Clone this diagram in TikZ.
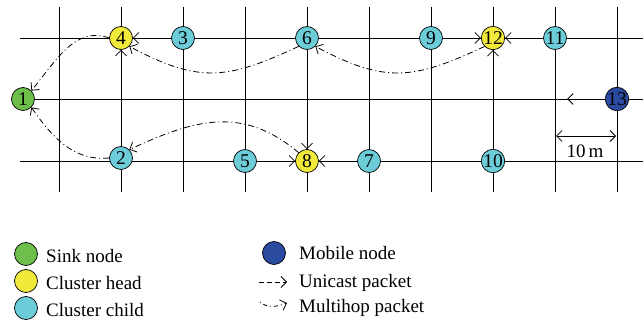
\documentclass[tikz,border=0pt]{standalone}
\usepackage{fontspec}
\setmainfont{Liberation Serif}
\usetikzlibrary{arrows.meta}
\definecolor{sinkgreen}{HTML}{6DBE4B}
\definecolor{headyellow}{HTML}{F2EA3A}
\definecolor{childcyan}{HTML}{6CCDD8}
\definecolor{mobileblue}{HTML}{2A4BA0}
\tikzset{
  grid line/.style={line width=0.9pt, black},
  wsn/.style={circle, draw=black, line width=0.7pt, minimum size=23pt, inner sep=0pt,
    font=\fontsize{19.5}{19.5}\selectfont},
  sink/.style={wsn, fill=sinkgreen},
  head/.style={wsn, fill=headyellow},
  child/.style={wsn, fill=childcyan},
  mobile/.style={wsn, fill=mobileblue},
  tip/.style={-{Straight Barb[length=5.5pt,width=11pt]}},
  unicast/.style={tip, line width=0.8pt, dash pattern=on 5pt off 3pt},
  multihop/.style={tip, line width=0.8pt, dash pattern=on 6pt off 3pt on 1pt off 3pt},
  legtext/.style={anchor=base west, inner sep=0pt, font=\fontsize{19}{19}\selectfont},
  legdot/.style={circle, draw=black, line width=0.7pt, minimum width=20pt, minimum height=23pt, inner sep=0pt},
}
\begin{document}
\begin{tikzpicture}[x=1pt,y=-1pt]
\useasboundingbox (0,0) rectangle (643,321);
% grid
\foreach \k in {0,...,9} {
  \draw[grid line] ({59+62*\k},7) -- ({59+62*\k},192);
}
\foreach \yy in {38,99,161} {
  \draw[grid line] (20,\yy) -- (643,\yy);
}
% nodes
\node[sink]   (n1)  at (23,99)   {1};
\node[child]  (n2)  at (121,158) {2};
\node[child]  (n3)  at (183,38)  {3};
\node[head]   (n4)  at (121,38)  {4};
\node[child]  (n5)  at (245,161) {5};
\node[child]  (n6)  at (307,38)  {6};
\node[child]  (n7)  at (369,161) {7};
\node[head]   (n8)  at (307,161) {8};
\node[child]  (n9)  at (431,38)  {9};
\node[child]  (n10) at (493,161) {10};
\node[child]  (n11) at (555,38)  {11};
\node[head]   (n12) at (493,38)  {12};
\node[mobile] (n13) at (617,99)  {13};
% unicast
\draw[unicast] (n3) -- (n4);
\draw[unicast] (n2) -- (n4);
\draw[unicast] (n6) -- (n8);
\draw[unicast] (n5) -- (n8);
\draw[unicast] (n7) -- (n8);
\draw[unicast] (n9) -- (n12);
\draw[unicast] (n11) -- (n12);
\draw[unicast] (n10) -- (n12);
% multihop
\draw[multihop] (n4.west) to[out=160,in=50] (n1.north east);
\draw[multihop] (n2.west) to[out=185,in=-55] (n1.south east);
\draw[multihop] (n6.south west) to[out=205,in=-28,looseness=1.2] (n4.south east);
\draw[multihop] (n12.south west) to[out=205,in=-28,looseness=1.2] (n6.south east);
\draw[multihop] (n8.north west) to[out=140,in=25,looseness=1.1] (n2.north east);
% mobile
\coordinate (mv) at (567,99);
\draw[tip, line width=0.9pt] (n13) -- (mv);
% scale
\coordinate (d1) at (556,136);
\coordinate (d2) at (616,136);
\draw[{Straight Barb[length=5.5pt,width=11pt]}-{Straight Barb[length=5.5pt,width=11pt]}, line width=0.8pt] (d1) -- (d2);
\node[anchor=base, inner sep=0pt, font=\fontsize{19}{19}\selectfont] (lab10) at (585,157) {10\,m};
% legend
\node[legdot, fill=sinkgreen]  (l1) at (26,254) {};
\node[legdot, fill=headyellow] (l2) at (26,281) {};
\node[legdot, fill=childcyan]  (l3) at (26,308) {};
\node[legtext] (t1) at (46,262) {Sink node};
\node[legtext] (t2) at (46,289) {Cluster head};
\node[legtext] (t3) at (46,316) {Cluster child};
\node[legdot, fill=mobileblue] (l4) at (274,253) {};
\node[legtext] (t4) at (299,259) {Mobile node};
\coordinate (u1) at (259,282);
\coordinate (u2) at (287,282);
\draw[unicast] (u1) -- (u2);
\node[legtext] (t5) at (299,287) {Unicast packet};
\coordinate (m1) at (260,302);
\coordinate (m2) at (287,303);
\draw[multihop, dash pattern=on 1pt off 3pt on 4pt off 3pt] (m1) to[out=-40,in=200] (m2);
\node[legtext] (t6) at (299,312) {Multihop packet};
\end{tikzpicture}
\end{document}
